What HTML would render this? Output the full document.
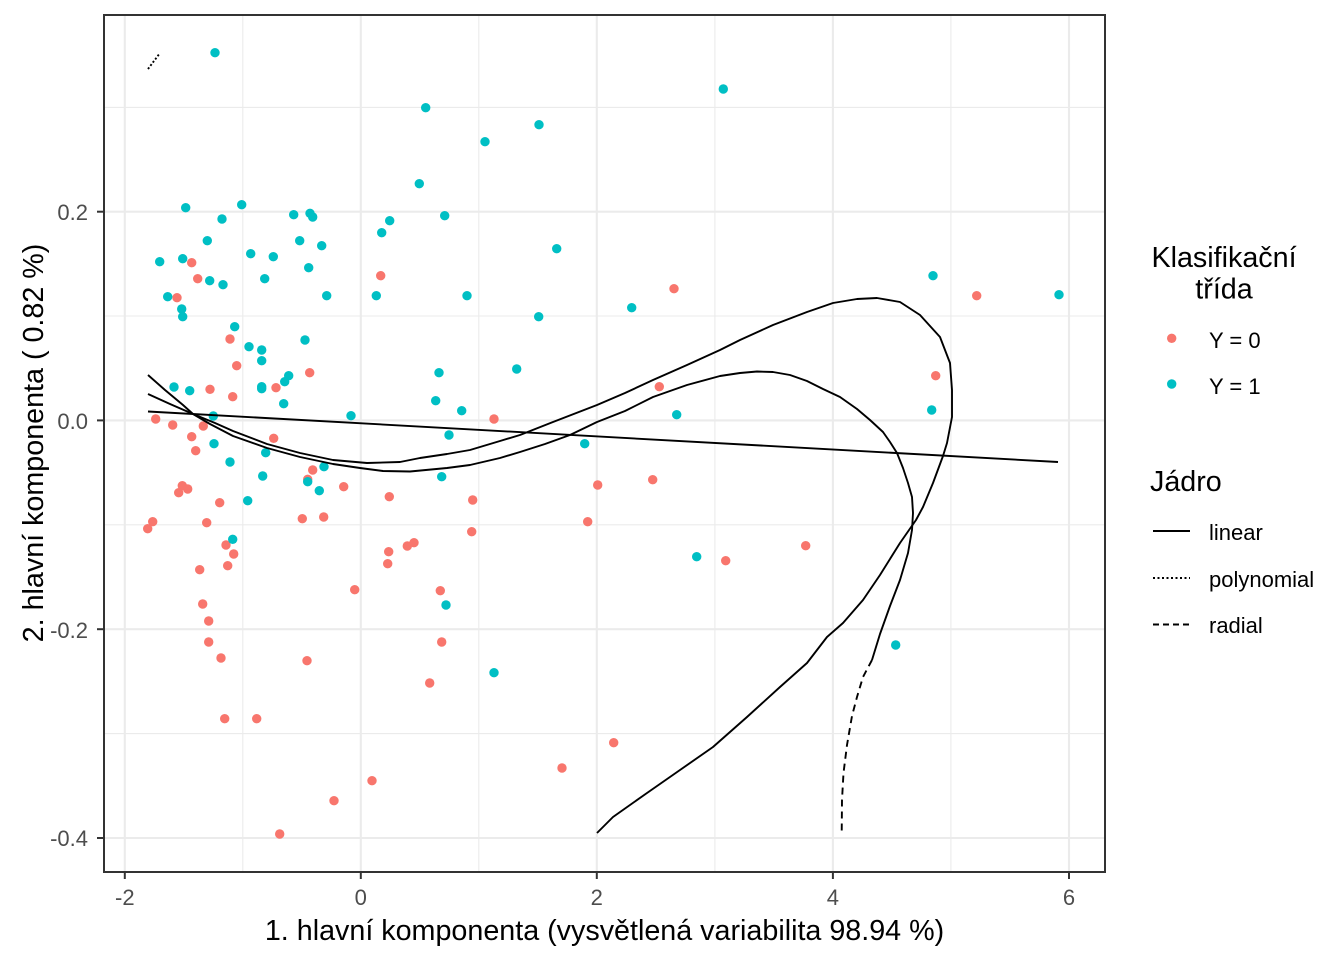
<!DOCTYPE html>
<html><head><meta charset="utf-8"><style>
html,body{margin:0;padding:0;background:#fff;}
svg{display:block;}
text{font-family:"Liberation Sans",Arial,sans-serif;}
</style></head><body>
<svg width="1344" height="960" viewBox="0 0 1344 960" xmlns="http://www.w3.org/2000/svg">
<rect x="0" y="0" width="1344" height="960" fill="#fff"/>
<!-- minor grid -->
<g stroke="#EBEBEB" stroke-width="1.1" fill="none">
<line x1="242.8" y1="15" x2="242.8" y2="872"/>
<line x1="478.8" y1="15" x2="478.8" y2="872"/>
<line x1="714.9" y1="15" x2="714.9" y2="872"/>
<line x1="950.9" y1="15" x2="950.9" y2="872"/>
<line x1="104" y1="107.4" x2="1105" y2="107.4"/>
<line x1="104" y1="316" x2="1105" y2="316"/>
<line x1="104" y1="524.8" x2="1105" y2="524.8"/>
<line x1="104" y1="733.6" x2="1105" y2="733.6"/>
</g>
<!-- major grid -->
<g stroke="#EBEBEB" stroke-width="2.1" fill="none">
<line x1="124.8" y1="15" x2="124.8" y2="872"/>
<line x1="360.8" y1="15" x2="360.8" y2="872"/>
<line x1="596.8" y1="15" x2="596.8" y2="872"/>
<line x1="832.9" y1="15" x2="832.9" y2="872"/>
<line x1="1069" y1="15" x2="1069" y2="872"/>
<line x1="104" y1="211.7" x2="1105" y2="211.7"/>
<line x1="104" y1="420.4" x2="1105" y2="420.4"/>
<line x1="104" y1="629.2" x2="1105" y2="629.2"/>
<line x1="104" y1="838" x2="1105" y2="838"/>
</g>
<!-- red points -->
<g fill="#F8766D">
<circle cx="191.7" cy="262.7" r="4.7"/><circle cx="197.7" cy="278.7" r="4.7"/><circle cx="380.7" cy="275.7" r="4.7"/><circle cx="177" cy="297.7" r="4.7"/><circle cx="674" cy="288.7" r="4.7"/><circle cx="976.7" cy="295.7" r="4.7"/><circle cx="230" cy="339" r="4.7"/><circle cx="236.7" cy="365.7" r="4.7"/><circle cx="309.7" cy="372.7" r="4.7"/><circle cx="210" cy="389.3" r="4.7"/><circle cx="276" cy="387.7" r="4.7"/><circle cx="232.7" cy="396.7" r="4.7"/><circle cx="155.7" cy="419" r="4.7"/><circle cx="172.7" cy="425" r="4.7"/><circle cx="203.3" cy="426" r="4.7"/><circle cx="191.7" cy="436.7" r="4.7"/><circle cx="273.7" cy="438.3" r="4.7"/><circle cx="195.7" cy="450.7" r="4.7"/><circle cx="494" cy="419" r="4.7"/><circle cx="659.3" cy="386.7" r="4.7"/><circle cx="935.7" cy="375.7" r="4.7"/><circle cx="312.7" cy="470" r="4.7"/><circle cx="307.7" cy="479.3" r="4.7"/><circle cx="343.7" cy="486.7" r="4.7"/><circle cx="389.3" cy="496.7" r="4.7"/><circle cx="182.3" cy="485.7" r="4.7"/><circle cx="178.7" cy="492.7" r="4.7"/><circle cx="187.7" cy="489" r="4.7"/><circle cx="219.7" cy="502.7" r="4.7"/><circle cx="152.7" cy="521.7" r="4.7"/><circle cx="147.7" cy="528.7" r="4.7"/><circle cx="206.7" cy="522.7" r="4.7"/><circle cx="302.3" cy="518.7" r="4.7"/><circle cx="323.7" cy="517" r="4.7"/><circle cx="472.7" cy="500" r="4.7"/><circle cx="471.7" cy="531.7" r="4.7"/><circle cx="597.7" cy="485" r="4.7"/><circle cx="587.7" cy="521.7" r="4.7"/><circle cx="652.7" cy="479.7" r="4.7"/><circle cx="725.7" cy="560.7" r="4.7"/><circle cx="805.7" cy="545.7" r="4.7"/><circle cx="226" cy="545" r="4.7"/><circle cx="233.7" cy="554" r="4.7"/><circle cx="227.7" cy="565.7" r="4.7"/><circle cx="199.7" cy="569.7" r="4.7"/><circle cx="388.7" cy="551.7" r="4.7"/><circle cx="387.7" cy="563.7" r="4.7"/><circle cx="407.3" cy="546" r="4.7"/><circle cx="414" cy="542.7" r="4.7"/><circle cx="354.7" cy="589.7" r="4.7"/><circle cx="440.3" cy="590.7" r="4.7"/><circle cx="202.7" cy="604" r="4.7"/><circle cx="208.7" cy="621" r="4.7"/><circle cx="208.7" cy="642" r="4.7"/><circle cx="221" cy="658" r="4.7"/><circle cx="307" cy="660.7" r="4.7"/><circle cx="441.7" cy="642" r="4.7"/><circle cx="429.7" cy="683" r="4.7"/><circle cx="224.7" cy="718.7" r="4.7"/><circle cx="256.7" cy="718.7" r="4.7"/><circle cx="372" cy="780.7" r="4.7"/><circle cx="334" cy="800.7" r="4.7"/><circle cx="279.7" cy="834" r="4.7"/><circle cx="613.7" cy="742.7" r="4.7"/><circle cx="562" cy="768" r="4.7"/>
</g>
<!-- teal points -->
<g fill="#00BFC4">
<circle cx="215" cy="52.7" r="4.7"/><circle cx="723.3" cy="89" r="4.7"/><circle cx="425.7" cy="107.7" r="4.7"/><circle cx="539" cy="124.7" r="4.7"/><circle cx="485" cy="141.7" r="4.7"/><circle cx="419.3" cy="183.7" r="4.7"/><circle cx="185.7" cy="207.7" r="4.7"/><circle cx="241.7" cy="204.7" r="4.7"/><circle cx="222" cy="219" r="4.7"/><circle cx="293.7" cy="214.7" r="4.7"/><circle cx="310" cy="213.3" r="4.7"/><circle cx="312.7" cy="217" r="4.7"/><circle cx="444.7" cy="215.7" r="4.7"/><circle cx="389.7" cy="220.7" r="4.7"/><circle cx="381.7" cy="232.7" r="4.7"/><circle cx="207.3" cy="240.7" r="4.7"/><circle cx="299.7" cy="240.7" r="4.7"/><circle cx="321.7" cy="245.7" r="4.7"/><circle cx="250.7" cy="253.7" r="4.7"/><circle cx="273.3" cy="256.7" r="4.7"/><circle cx="159.7" cy="261.7" r="4.7"/><circle cx="182.7" cy="258.7" r="4.7"/><circle cx="209.7" cy="280.7" r="4.7"/><circle cx="223" cy="284.7" r="4.7"/><circle cx="264.7" cy="278.7" r="4.7"/><circle cx="308.7" cy="267.7" r="4.7"/><circle cx="326.7" cy="295.7" r="4.7"/><circle cx="376.3" cy="295.7" r="4.7"/><circle cx="167.7" cy="296.7" r="4.7"/><circle cx="181.7" cy="309" r="4.7"/><circle cx="182.7" cy="316.7" r="4.7"/><circle cx="556.7" cy="248.7" r="4.7"/><circle cx="467" cy="295.7" r="4.7"/><circle cx="538.7" cy="316.7" r="4.7"/><circle cx="631.7" cy="307.7" r="4.7"/><circle cx="234.7" cy="326.7" r="4.7"/><circle cx="249" cy="346.7" r="4.7"/><circle cx="261.7" cy="350" r="4.7"/><circle cx="261.7" cy="360.7" r="4.7"/><circle cx="305" cy="340" r="4.7"/><circle cx="288.7" cy="375.7" r="4.7"/><circle cx="284.7" cy="381.7" r="4.7"/><circle cx="439" cy="372.7" r="4.7"/><circle cx="516.7" cy="369" r="4.7"/><circle cx="174" cy="387" r="4.7"/><circle cx="189.7" cy="390.7" r="4.7"/><circle cx="261.7" cy="386.7" r="4.7"/><circle cx="261.7" cy="388.7" r="4.7"/><circle cx="283.7" cy="403.7" r="4.7"/><circle cx="435.7" cy="400.7" r="4.7"/><circle cx="461.7" cy="410.7" r="4.7"/><circle cx="213.3" cy="416" r="4.7"/><circle cx="351" cy="415.7" r="4.7"/><circle cx="449" cy="435" r="4.7"/><circle cx="584.7" cy="443.7" r="4.7"/><circle cx="676.7" cy="414.7" r="4.7"/><circle cx="214" cy="443.7" r="4.7"/><circle cx="230" cy="462" r="4.7"/><circle cx="265.7" cy="452.7" r="4.7"/><circle cx="262.7" cy="476" r="4.7"/><circle cx="307.7" cy="481.7" r="4.7"/><circle cx="324" cy="466.7" r="4.7"/><circle cx="319.3" cy="490.7" r="4.7"/><circle cx="441.7" cy="476.7" r="4.7"/><circle cx="247.7" cy="500.7" r="4.7"/><circle cx="232.7" cy="539.3" r="4.7"/><circle cx="446" cy="605" r="4.7"/><circle cx="494" cy="672.7" r="4.7"/><circle cx="696.7" cy="556.7" r="4.7"/><circle cx="895.7" cy="645" r="4.7"/><circle cx="933" cy="275.7" r="4.7"/><circle cx="1059" cy="294.7" r="4.7"/><circle cx="931.7" cy="410" r="4.7"/>
</g>
<!-- curves -->
<g fill="none" stroke="#000" stroke-width="1.9" stroke-linejoin="round" stroke-linecap="butt">
<path d="M148,411.5 L1058,462"/>
<polyline points="148,375 165,390 183,405 193,414 210,424 233,436 267,448 300,457 333,464 360,468 383,471 410,471.5 447,468 470,465 500,458 520,452 545,444 570,435 597,422 625,411 653,397 687,385 720,376 740,373 757,371.5 773,372 790,375 807,381 823,389 840,397 857,409 870,420 883,432 890,442 897,453 903,468 908,483 912,497 913,513 912,530 908,553 900,580 890,606 880,634 872,660"/>
<polyline stroke-dasharray="7,5" points="872,660 863,677 857,697 852,716 847,745 843.5,773 842,800 841.7,833"/>
<polyline points="148,394 170,404 193,414 215,423 233,431 267,444 300,453 333,460 367,463 400,462 420,458 447,454 470,450 500,441 520,435 553,422 597,405 625,393 653,380 687,365 720,350 740,340 773,325 807,312 833,303 857,299 877,298 900,302 920,315 940,337 950,363 952,390 952,417 947,443 943,456 933,483 923,507 916,520 900,543 880,575 863,600 843,623 827,637 807,663 780,687 747,717 713,747 680,770 647,793 613,817 597,833"/>
<polyline stroke-dasharray="2,2" points="148,69 154,61 160,53"/>
</g>
<!-- panel border -->
<rect x="104" y="15" width="1001" height="857" fill="none" stroke="#333333" stroke-width="2"/>
<!-- ticks -->
<g stroke="#333333" stroke-width="2">
<line x1="124.8" y1="872" x2="124.8" y2="879"/>
<line x1="360.8" y1="872" x2="360.8" y2="879"/>
<line x1="596.8" y1="872" x2="596.8" y2="879"/>
<line x1="832.9" y1="872" x2="832.9" y2="879"/>
<line x1="1069" y1="872" x2="1069" y2="879"/>
<line x1="97" y1="211.7" x2="104" y2="211.7"/>
<line x1="97" y1="420.4" x2="104" y2="420.4"/>
<line x1="97" y1="629.2" x2="104" y2="629.2"/>
<line x1="97" y1="838" x2="104" y2="838"/>
</g>
<!-- tick labels -->
<g fill="#4D4D4D" font-size="22">
<text x="124.8" y="905" text-anchor="middle">-2</text>
<text x="360.8" y="905" text-anchor="middle">0</text>
<text x="596.8" y="905" text-anchor="middle">2</text>
<text x="832.9" y="905" text-anchor="middle">4</text>
<text x="1069" y="905" text-anchor="middle">6</text>
<text x="88" y="220" text-anchor="end">0.2</text>
<text x="88" y="429" text-anchor="end">0.0</text>
<text x="88" y="638" text-anchor="end">-0.2</text>
<text x="88" y="846" text-anchor="end">-0.4</text>
</g>
<!-- axis titles -->
<text x="604.5" y="940" text-anchor="middle" font-size="28.7" fill="#000">1. hlavní komponenta (vysvětlená variabilita 98.94 %)</text>
<text transform="translate(43,443) rotate(-90)" text-anchor="middle" font-size="28.7" fill="#000">2. hlavní komponenta ( 0.82 %)</text>
<!-- legend -->
<text x="1224" y="267" text-anchor="middle" font-size="28.7" fill="#000">Klasifikační</text>
<text x="1224" y="298.5" text-anchor="middle" font-size="28.7" fill="#000">třída</text>
<circle cx="1171.7" cy="338.3" r="4.7" fill="#F8766D"/>
<circle cx="1171.7" cy="384" r="4.7" fill="#00BFC4"/>
<text x="1209" y="348" font-size="22" fill="#000">Y = 0</text>
<text x="1209" y="394" font-size="22" fill="#000">Y = 1</text>
<text x="1150" y="491" font-size="28.7" fill="#000">Jádro</text>
<line x1="1153" y1="531" x2="1190" y2="531" stroke="#000" stroke-width="1.9"/>
<line x1="1153" y1="578" x2="1190" y2="578" stroke="#000" stroke-width="1.9" stroke-dasharray="2,2.5"/>
<line x1="1153" y1="624.5" x2="1190" y2="624.5" stroke="#000" stroke-width="1.9" stroke-dasharray="6,4"/>
<text x="1209" y="540" font-size="22" fill="#000">linear</text>
<text x="1209" y="587" font-size="22" fill="#000">polynomial</text>
<text x="1209" y="633" font-size="22" fill="#000">radial</text>
</svg>
</body></html>
